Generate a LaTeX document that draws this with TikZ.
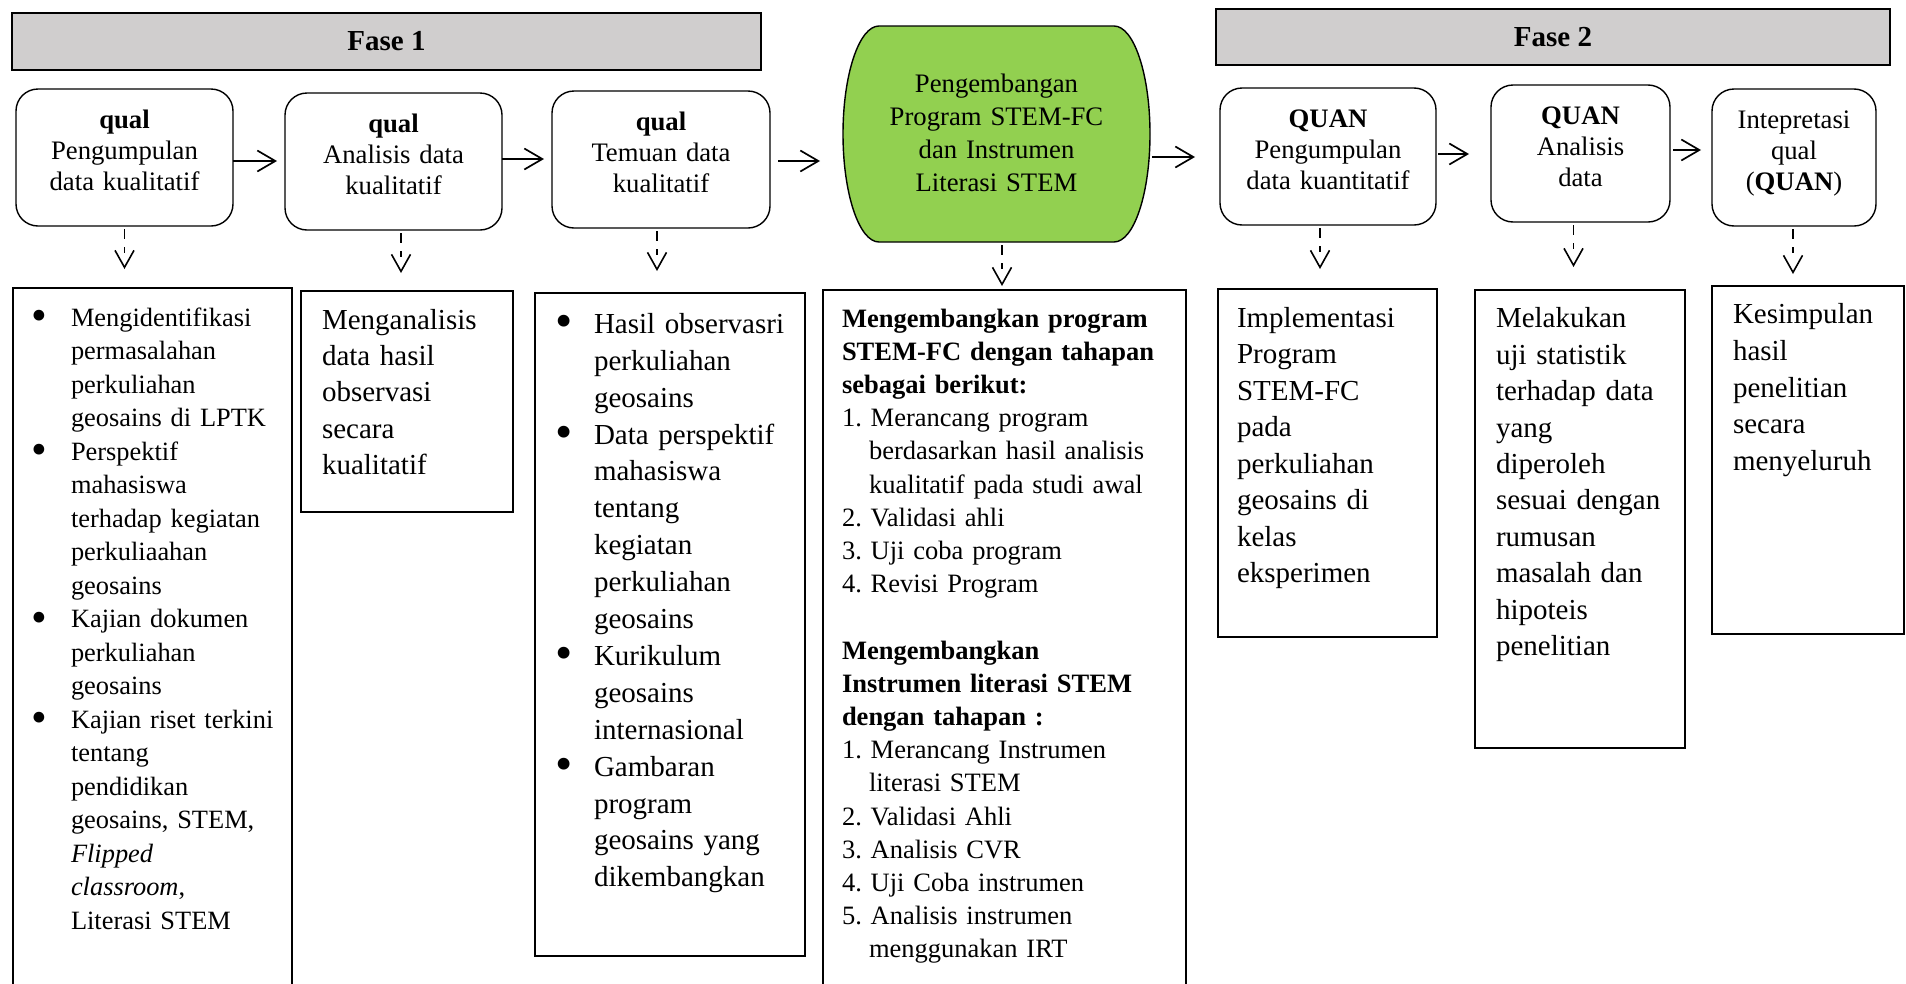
\documentclass[tikz,border=0pt]{standalone}
\usepackage{fontspec}
\setmainfont{Liberation Serif}
\usetikzlibrary{arrows.meta}
\definecolor{fasegray}{RGB}{208,206,206}
\definecolor{devgreen}{RGB}{146,208,80}
\newcommand{\bul}[1]{\makebox[#1][l]{\raisebox{-4.2pt}{\scalebox{1.7}{\textbullet}}}}
\newcommand{\ind}[1]{\hspace*{#1}}
\newcommand{\topstrut}{\rule{0pt}{21.7pt}}
\newcommand{\botstrut}{\rule[-17pt]{0pt}{17pt}}
\frenchspacing
\begin{document}
\begin{tikzpicture}[x=1pt,y=1pt,
  phasebar/.style={draw, line width=1.4pt, fill=fasegray, anchor=north west, inner sep=0pt, outer sep=0pt, font=\fontsize{29}{33}\selectfont\bfseries},
  stagebox/.style={draw, line width=1.4pt, rounded corners=22pt, anchor=north west, inner sep=0pt, outer sep=0pt, align=center, font=\fontsize{26.7}{31}\selectfont},
  infobox/.style={draw, line width=1.4pt, anchor=north west, inner sep=0pt, outer sep=0pt},
  infotext/.style={anchor=north west, inner sep=0pt, outer sep=0pt, align=left},
  flowarrow/.style={line width=1.7pt, -{Straight Barb[length=18pt,width=21pt]}},
  downarrow/.style={line width=1.6pt, dash pattern=on 10pt off 8pt on 6pt off 60pt, shorten <=3pt, -{Straight Barb[length=17pt,width=19pt]}}
]
\path[use as bounding box] (0,0) rectangle (1906,-983);
\clip (0,0) rectangle (1906,-983);

% phase bars
\node[phasebar, minimum width=749pt, minimum height=57pt] (fase1) at (12,-13) {Fase 1};
\node[phasebar, minimum width=674pt, minimum height=56pt] (fase2) at (1216,-9) {Fase 2};

% top stage boxes
\node[stagebox, minimum width=217pt, minimum height=137pt, text width=207pt] (t1) at (16,-89)
  {\topstrut\textbf{qual}\\Pengumpulan\\data kualitatif\botstrut};
\node[stagebox, minimum width=217pt, minimum height=137pt, text width=207pt] (t2) at (285,-93)
  {\topstrut\textbf{qual}\\Analisis data\\kualitatif\botstrut};
\node[stagebox, minimum width=218pt, minimum height=137pt, text width=208pt] (t3) at (552,-91)
  {\topstrut\textbf{qual}\\Temuan data\\kualitatif\botstrut};

% green development shape
\fill[devgreen, draw=black, line width=1.4pt] (879,-26) -- (1114,-26)
  arc[start angle=90, end angle=-90, x radius=36, y radius=108] -- (879,-242)
  arc[start angle=270, end angle=90, x radius=36, y radius=108] -- cycle;
\node[anchor=north west, inner sep=0pt, outer sep=0pt, minimum width=307pt, minimum height=216pt, align=center, text width=290pt, font=\fontsize{26.7}{33}\selectfont] (green) at (843,-26)
  {\rule{0pt}{23.1pt}Pengembangan\\Program STEM-FC\\dan Instrumen\\Literasi STEM\rule[-7pt]{0pt}{7pt}};

\node[stagebox, minimum width=216pt, minimum height=137pt, text width=206pt] (q1) at (1220,-88)
  {\topstrut\textbf{QUAN}\\Pengumpulan\\data kuantitatif\botstrut};
\node[stagebox, minimum width=179pt, minimum height=137pt, text width=169pt] (q2) at (1491,-85)
  {\topstrut\textbf{QUAN}\\Analisis\\data\botstrut};
\node[stagebox, minimum width=164pt, minimum height=137pt, text width=154pt] (q3) at (1712,-89)
  {\topstrut Intepretasi\\qual\\(\textbf{QUAN})\botstrut};

% bottom boxes
\node[infobox, minimum width=279pt, minimum height=707pt] (B1) at (13,-288) {};
\node[infobox, minimum width=212pt, minimum height=221pt] (B2) at (301,-291) {};
\node[infobox, minimum width=270pt, minimum height=663pt] (B3) at (535,-293) {};
\node[infobox, minimum width=363pt, minimum height=705pt] (B4) at (823,-290) {};
\node[infobox, minimum width=219pt, minimum height=348pt] (B5) at (1218,-289) {};
\node[infobox, minimum width=210pt, minimum height=458pt] (B6) at (1475,-290) {};
\node[infobox, minimum width=192pt, minimum height=348pt] (B7) at (1712,-286) {};

% bottom texts
\node[infotext, text width=258pt, font=\fontsize{26.4}{33.5}\selectfont] (B1t) at (31,-303) {\parindent=0pt
\strut\bul{40pt}Mengidentifikasi\\
\ind{40pt}permasalahan\\
\ind{40pt}perkuliahan\\
\ind{40pt}geosains di LPTK\\
\bul{40pt}Perspektif\\
\ind{40pt}mahasiswa\\
\ind{40pt}terhadap kegiatan\\
\ind{40pt}perkuliaahan\\
\ind{40pt}geosains\\
\bul{40pt}Kajian dokumen\\
\ind{40pt}perkuliahan\\
\ind{40pt}geosains\\
\bul{40pt}Kajian riset terkini\\
\ind{40pt}tentang\\
\ind{40pt}pendidikan\\
\ind{40pt}geosains, STEM,\\
\ind{40pt}\textit{Flipped}\\
\ind{40pt}\textit{classroom},\\
\ind{40pt}Literasi STEM};

\node[infotext, text width=188pt, font=\fontsize{29}{36.1}\selectfont] (B2t) at (322,-304.5) {\parindent=0pt
\strut Menganalisis\\data hasil\\observasi\\secara\\kualitatif};

\node[infotext, text width=246pt, font=\fontsize{29}{36.9}\selectfont] (B3t) at (555,-307.5) {\parindent=0pt
\strut\bul{39pt}Hasil observasri\\
\ind{39pt}perkuliahan\\
\ind{39pt}geosains\\
\bul{39pt}Data perspektif\\
\ind{39pt}mahasiswa\\
\ind{39pt}tentang\\
\ind{39pt}kegiatan\\
\ind{39pt}perkuliahan\\
\ind{39pt}geosains\\
\bul{39pt}Kurikulum\\
\ind{39pt}geosains\\
\ind{39pt}internasional\\
\bul{39pt}Gambaran\\
\ind{39pt}program\\
\ind{39pt}geosains yang\\
\ind{39pt}dikembangkan};

\node[infotext, text width=340pt, font=\fontsize{26.5}{33.2}\selectfont] (B4t) at (842,-303.8) {\parindent=0pt
\strut\textbf{Mengembangkan program}\\
\textbf{STEM-FC dengan tahapan}\\
\textbf{sebagai berikut:}\\
1. Merancang program\\
\ind{27pt}berdasarkan hasil analisis\\
\ind{27pt}kualitatif pada studi awal\\
2. Validasi ahli\\
3. Uji coba program\\
4. Revisi Program\\
\mbox{}\\
\textbf{Mengembangkan}\\
\textbf{Instrumen literasi STEM}\\
\textbf{dengan tahapan :}\\
1. Merancang Instrumen\\
\ind{27pt}literasi STEM\\
2. Validasi Ahli\\
3. Analisis CVR\\
4. Uji Coba instrumen\\
5. Analisis instrumen\\
\ind{27pt}menggunakan IRT};

\node[infotext, text width=196pt, font=\fontsize{29}{36.5}\selectfont] (B5t) at (1237,-301.5) {\parindent=0pt
\strut Implementasi\\Program\\STEM-FC\\pada\\perkuliahan\\geosains di\\kelas\\eksperimen};

\node[infotext, text width=186pt, font=\fontsize{29}{36.4}\selectfont] (B6t) at (1496,-302.5) {\parindent=0pt
\strut Melakukan\\uji statistik\\terhadap data\\yang\\diperoleh\\sesuai dengan\\rumusan\\masalah dan\\hipoteis\\penelitian};

\node[infotext, text width=168pt, font=\fontsize{29}{36.8}\selectfont] (B7t) at (1733,-297.7) {\parindent=0pt
\strut Kesimpulan\\hasil\\penelitian\\secara\\menyeluruh};

% horizontal flow arrows
\draw[flowarrow, shorten >=8pt] ([yshift=-3.5pt]t1.east) -- ([yshift=-3.5pt]t1.east -| t2.west);
\draw[flowarrow, shorten >=8pt] ([yshift=2.5pt]t2.east) -- ([yshift=2.5pt]t2.east -| t3.west);
\draw[flowarrow, shorten <=8pt, shorten >=23pt] ([yshift=-1.5pt]t3.east) -- ([yshift=-1.5pt]t3.east -| green.west);
\draw[flowarrow, shorten <=2pt, shorten >=25pt] ([yshift=-23pt]green.east) -- ([yshift=-23pt]green.east -| q1.west);
\draw[flowarrow, shorten <=2pt, shorten >=22pt] ([yshift=2.5pt]q1.east) -- ([yshift=2.5pt]q1.east -| q2.west);
\draw[flowarrow, shorten <=3pt, shorten >=11pt] ([yshift=3.5pt]q2.east) -- ([yshift=3.5pt]q2.east -| q3.west);

% dashed down arrows
\draw[downarrow, shorten >=19pt] (t1.south) -- (t1.south |- B1.north);
\draw[downarrow, shorten >=18pt] ([xshift=7.5pt]t2.south) -- ([xshift=7.5pt]t2.south |- B2.north);
\draw[downarrow, shorten >=22pt] ([xshift=-4pt]t3.south) -- ([xshift=-4pt]t3.south |- B3.north);
\draw[downarrow, shorten >=4pt] ([xshift=5.5pt]green.south) -- ([xshift=5.5pt]green.south |- B4.north);
\draw[downarrow, shorten >=20pt] ([xshift=-8pt]q1.south) -- ([xshift=-8pt]q1.south |- B5.north);
\draw[downarrow, shorten >=23pt] ([xshift=-7pt]q2.south) -- ([xshift=-7pt]q2.south |- B6.north);
\draw[downarrow, shorten >=12pt] ([xshift=-1pt]q3.south) -- ([xshift=-1pt]q3.south |- B7.north);
\end{tikzpicture}
\end{document}
